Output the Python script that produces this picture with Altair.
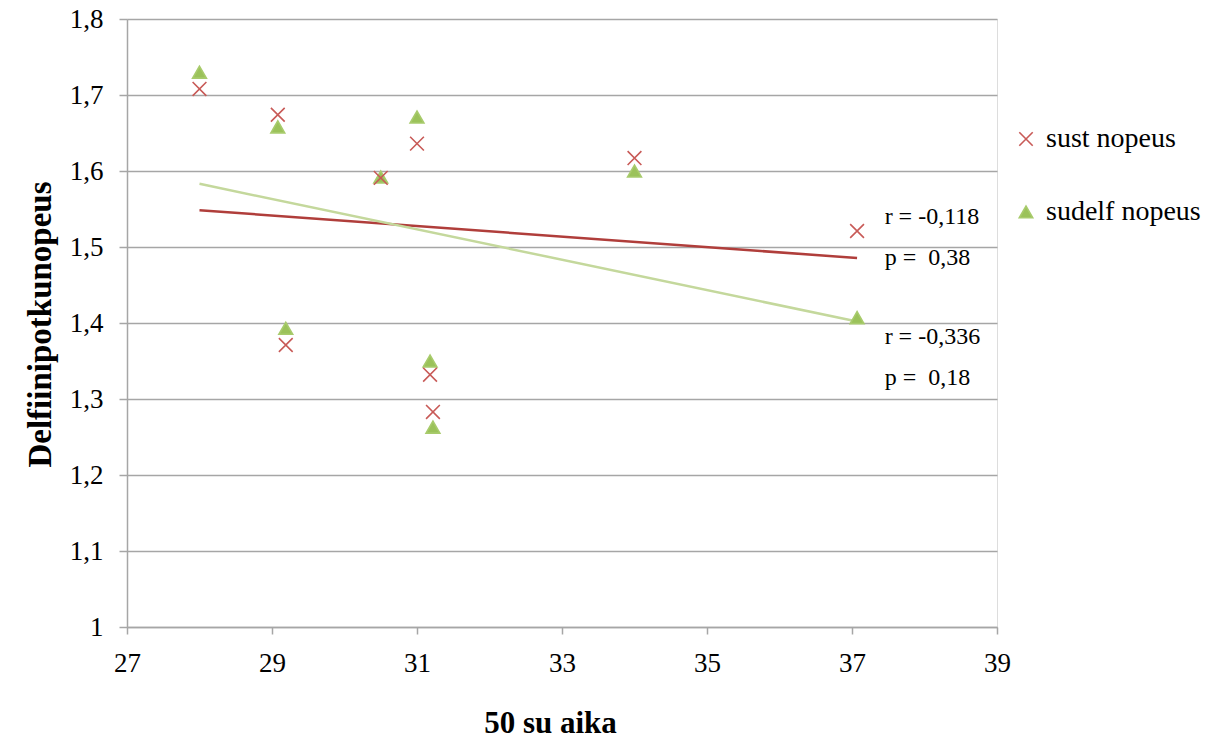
import altair as alt
import pandas as pd

# ---- data ----
series_names = ["sust nopeus", "sudelf nopeus"]
aika = [28.0, 29.08, 29.19, 30.5, 31.0, 31.18, 31.22, 34.0, 37.07]
sust_nopeus = [1.708, 1.674, 1.371, 1.591, 1.636, 1.332, 1.283, 1.617, 1.521]
sudelf_nopeus = [1.730, 1.658, 1.393, 1.592, 1.671, 1.350, 1.263, 1.600, 1.407]

x_ticks = [27, 29, 31, 33, 35, 37, 39]
y_ticks = [1.0, 1.1, 1.2, 1.3, 1.4, 1.5, 1.6, 1.7, 1.8]

note_texts = ["r = -0,118", "p =\u00a0 0,38", "r = -0,336", "p =\u00a0 0,18"]
note_x = [37.45, 37.45, 37.45, 37.45]
note_y = [1.5395, 1.4855, 1.3816, 1.3276]

points = pd.DataFrame({
    "aika": aika + aika,
    "nopeus": sust_nopeus + sudelf_nopeus,
    "series": [series_names[0]] * len(aika) + [series_names[1]] * len(aika),
})
notes = pd.DataFrame({"t": note_texts, "aika": note_x, "nopeus": note_y})

FONT = "Liberation Serif"
GRID = "#A6A6A6"

x_enc = alt.X(
    "aika:Q",
    scale=alt.Scale(domain=[27, 39], nice=False, zero=False),
    axis=alt.Axis(
        values=x_ticks, grid=False, title="50 su aika", format="d",
        titleX=423, titleY=105, titleBaseline="alphabetic", titleFontSize=31,
        labelPadding=16, tickSize=7, labelFlush=False,
    ),
)
y_enc = alt.Y(
    "nopeus:Q",
    scale=alt.Scale(domain=[1, 1.8], nice=False, zero=False),
    axis=alt.Axis(
        values=y_ticks, grid=True, gridColor=GRID, gridWidth=1.5,
        title="Delfiinipotkunopeus", titleFontSize=33,
        titleX=-70, titleY=305,
        labelPadding=16, tickSize=8, labelFlush=False,
        labelExpr="datum.value == 1 ? '1' : replace(format(datum.value, '.1f'), '.', ',')",
    ),
)

base = alt.Chart(points)

trend_colors = ["#B03E3B", "#C4D89C"]
trends = []
for name, col in zip(series_names, trend_colors):
    trends.append(
        base.transform_filter(alt.datum.series == name)
        .transform_regression("aika", "nopeus")
        .mark_line(color=col, strokeWidth=2.5)
        .encode(x=x_enc, y=y_enc)
    )

leg = alt.Legend(title=None, orient="none", legendX=885, legendY=106)
dom = series_names
pts = base.mark_point(filled=True, size=190, strokeWidth=1.6, opacity=1).encode(
    x=x_enc,
    y=y_enc,
    shape=alt.Shape("series:N", scale=alt.Scale(domain=dom, range=["M-1,-1L1,1M-1,1L1,-1", "triangle-up"]), legend=leg),
    fill=alt.Fill("series:N", scale=alt.Scale(domain=dom, range=["#C85A57", "#9BC25A"]), legend=leg),
    stroke=alt.Stroke("series:N", scale=alt.Scale(domain=dom, range=["#C85A57", "#A8CB6C"]), legend=leg),
    order=alt.Order("series:N", sort="ascending"),
)

txt = alt.Chart(notes).mark_text(
    align="left", baseline="middle", font=FONT, fontSize=24, color="black"
).encode(x=x_enc, y=y_enc, text="t:N")

chart = alt.layer(*trends, pts, txt).properties(
    width=870, height=608,
    padding={"left": 119, "top": 11, "right": 218, "bottom": 109},
    autosize="none",
).configure_view(stroke=None).configure(background="white").configure_axis(
    labelFont=FONT, labelFontSize=27, labelColor="black",
    titleFont=FONT, titleFontWeight="bold", titleColor="black",
    tickColor=GRID, tickWidth=1.5, domainColor=GRID, domainWidth=1.5,
).configure_legend(
    labelFont=FONT, labelFontSize=28, labelColor="black", labelOffset=6,
    symbolSize=180, symbolStrokeWidth=1.6, rowPadding=45, padding=0,
)

chart.save("out.html", embed_options={"renderer": "svg", "actions": False})
